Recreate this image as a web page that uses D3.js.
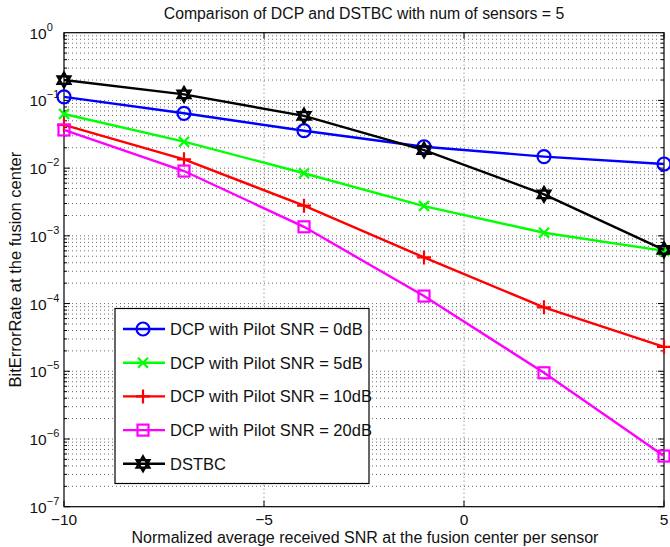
<!DOCTYPE html>
<html>
<head>
<meta charset="utf-8">
<script src="https://cdn.jsdelivr.net/npm/d3@7"></script>
<style>
body { margin: 0; background: #fff; }
text { font-family: "Liberation Sans", Arial, sans-serif; fill: #111; }
</style>
</head>
<body>
<svg id="chart" width="670" height="547"></svg>
<script>
// data
var snr = [-10, -7, -4, -1, 2, 5]
var pilot0 = [0.113, 0.0645, 0.0357, 0.0207, 0.0148, 0.0115]
var pilot5 = [0.063, 0.0246, 0.0084, 0.00275, 0.00111, 0.0006]
var pilot10 = [0.0434, 0.0135, 0.00279, 0.00048, 0.000088, 0.000023]
var pilot20 = [0.0366, 0.00906, 0.00136, 0.000129, 0.0000095, 0.00000056]
var dstbc = [0.2, 0.123, 0.059, 0.0185, 0.0041, 0.00062]
var xTicks = [-10, -5, 0, 5]
var yDecades = [-7, -6, -5, -4, -3, -2, -1, 0]

var seriesList = [
    { name: "DCP with Pilot SNR = 0dB", values: pilot0, color: "#0000ff", marker: "circle" },
    { name: "DCP with Pilot SNR = 5dB", values: pilot5, color: "#00ff00", marker: "x" },
    { name: "DCP with Pilot SNR = 10dB", values: pilot10, color: "#ff0000", marker: "plus" },
    { name: "DCP with Pilot SNR = 20dB", values: pilot20, color: "#ff00ff", marker: "square" },
    { name: "DSTBC", values: dstbc, color: "#000000", marker: "hexagram" }
]

var dimensions = {
    width: 670,
    height: 547,
    margin: { top: 32.7, bottom: 40.3, left: 64, right: 6 }
}
var x0 = dimensions.margin.left
var x1 = dimensions.width - dimensions.margin.right
var y0 = dimensions.margin.top
var y1 = dimensions.height - dimensions.margin.bottom

var svg = d3.select("#chart")

var xScale = d3.scaleLinear().domain([-10, 5]).range([x0, x1])
var yScale = d3.scaleLog().domain([1e-7, 1]).range([y1, y0])

// grid
var grid = svg.append("g")
    .attr("stroke", "#444")
    .attr("stroke-width", 0.8)
    .attr("stroke-dasharray", "1,3")
var minors = []
yDecades.slice(0, -1).forEach(function (k) {
    for (var m = 1; m < 10; m++) minors.push({ v: m * Math.pow(10, k), major: m == 1 })
})
grid.selectAll("line.h")
    .data(minors.filter(d => d.v > 1e-7))
    .enter().append("line")
    .attr("x1", x0).attr("x2", x1)
    .attr("y1", d => yScale(d.v)).attr("y2", d => yScale(d.v))
grid.selectAll("line.v")
    .data(xTicks.slice(1, -1))
    .enter().append("line")
    .attr("y1", y0).attr("y2", y1)
    .attr("x1", d => xScale(d)).attr("x2", d => xScale(d))

// ticks inside the box
var ticks = svg.append("g").attr("stroke", "#000").attr("stroke-width", 1)
minors.forEach(function (d) {
    var len = d.major ? 6 : 3
    var y = yScale(d.v)
    ticks.append("line").attr("x1", x0).attr("x2", x0 + len).attr("y1", y).attr("y2", y)
    ticks.append("line").attr("x1", x1).attr("x2", x1 - len).attr("y1", y).attr("y2", y)
})
xTicks.forEach(function (d) {
    var x = xScale(d)
    ticks.append("line").attr("x1", x).attr("x2", x).attr("y1", y1).attr("y2", y1 - 6)
    ticks.append("line").attr("x1", x).attr("x2", x).attr("y1", y0).attr("y2", y0 + 6)
})

svg.append("rect")
    .attr("x", x0).attr("y", y0)
    .attr("width", x1 - x0).attr("height", y1 - y0)
    .attr("fill", "none").attr("stroke", "#000").attr("stroke-width", 1.2)

// tick labels
svg.selectAll("text.xt")
    .data(xTicks)
    .enter().append("text")
    .attr("x", d => xScale(d))
    .attr("y", y1 + 18)
    .attr("text-anchor", "middle")
    .attr("font-size", 15.5)
    .text(d => d < 0 ? "\u2212" + (-d) : d)

yDecades.forEach(function (k) {
    var t = svg.append("text")
        .attr("x", 29.5)
        .attr("y", yScale(Math.pow(10, k)) + 6)
        .attr("font-size", 15.5)
    t.append("tspan").text("10")
    t.append("tspan")
        .attr("dy", -8)
        .attr("font-size", 11)
        .text(k < 0 ? "\u2212" + (-k) : k)
})

// lines and markers
var hexagram = function (r) {
    var tri = function (off) {
        var pts = []
        for (var i = 0; i < 3; i++) {
            var a = off + i * 2 * Math.PI / 3
            pts.push([r * Math.sin(a), -r * Math.cos(a)])
        }
        return "M" + pts.map(p => p.join(",")).join("L") + "Z"
    }
    return tri(0) + tri(Math.PI)
}
function drawMarker(g, type, color) {
    if (type == "circle") {
        g.append("circle").attr("r", 6.5).attr("fill", "none").attr("stroke", color).attr("stroke-width", 2.2)
    } else if (type == "x") {
        g.append("path").attr("d", "M-5,-5L5,5M-5,5L5,-5").attr("stroke", color).attr("stroke-width", 2.2)
    } else if (type == "plus") {
        g.append("path").attr("d", "M-7,0L7,0M0,-7L0,7").attr("stroke", color).attr("stroke-width", 2.2)
    } else if (type == "square") {
        g.append("rect").attr("x", -5.5).attr("y", -5.5).attr("width", 11).attr("height", 11)
            .attr("fill", "none").attr("stroke", color).attr("stroke-width", 2.2)
    } else {
        g.append("path").attr("d", hexagram(7.5)).attr("fill", "none").attr("stroke", color).attr("stroke-width", 2.2)
    }
}

var line = d3.line()
    .x((d, i) => xScale(snr[i]))
    .y(d => yScale(d))

seriesList.forEach(function (s) {
    svg.append("path")
        .attr("d", line(s.values))
        .attr("fill", "none")
        .attr("stroke", s.color)
        .attr("stroke-width", 2.4)
    s.values.forEach(function (v, i) {
        var g = svg.append("g").attr("transform", `translate(${xScale(snr[i])},${yScale(v)})`)
        drawMarker(g, s.marker, s.color)
    })
})

// legend
var legend = svg.append("g")
legend.append("rect")
    .attr("x", 115).attr("y", 308.5)
    .attr("width", 254).attr("height", 175)
    .attr("fill", "#fff").attr("stroke", "#000").attr("stroke-width", 1.2)
seriesList.forEach(function (s, i) {
    var y = 329 + i * 33.7
    legend.append("line")
        .attr("x1", 123).attr("x2", 165).attr("y1", y).attr("y2", y)
        .attr("stroke", s.color).attr("stroke-width", 2.4)
    var g = legend.append("g").attr("transform", `translate(143,${y})`)
    drawMarker(g, s.marker, s.color)
    legend.append("text")
        .attr("x", 170).attr("y", y + 6)
        .attr("font-size", 16.5)
        .text(s.name)
})

// title and axis labels
svg.append("text")
    .attr("x", (x0 + x1) / 2).attr("y", 19)
    .attr("text-anchor", "middle").attr("font-size", 15.8)
    .text("Comparison of DCP and DSTBC with num of sensors = 5")
svg.append("text")
    .attr("x", (x0 + x1) / 2 + 1).attr("y", 543)
    .attr("text-anchor", "middle").attr("font-size", 16)
    .text("Normalized average received SNR at the fusion center per sensor")
svg.append("text")
    .attr("transform", `translate(21,${(y0 + y1) / 2}) rotate(-90)`)
    .attr("text-anchor", "middle").attr("font-size", 16.5)
    .text("BitErrorRate at the fusion center")
</script>
</body>
</html>
